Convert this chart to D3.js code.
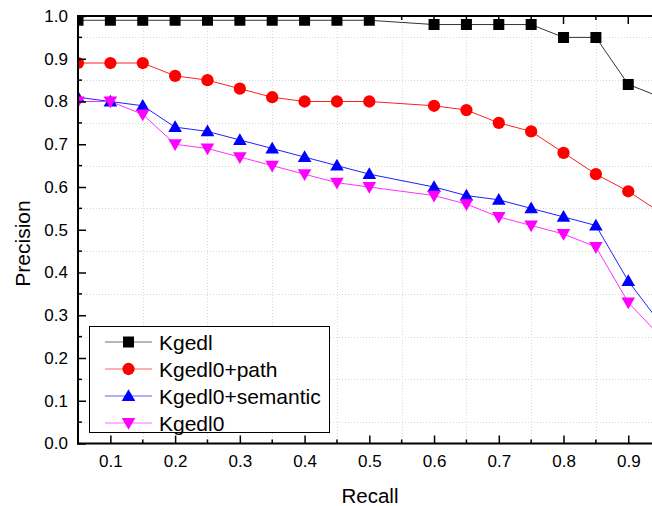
<!DOCTYPE html>
<html>
<head>
<meta charset="utf-8">
<script src="https://cdn.jsdelivr.net/npm/d3@7"></script>
<style>
  html, body { margin: 0; padding: 0; background: #fff; }
  svg { display: block; font-family: Arial, "Liberation Sans", sans-serif; }
</style>
</head>
<body>
<svg id="chart" width="652" height="506"></svg>
<script>
// Recall levels shared by every series
const recall = [0.05, 0.1, 0.15, 0.2, 0.25, 0.3, 0.35, 0.4, 0.45, 0.5,
                0.6, 0.65, 0.7, 0.75, 0.8, 0.85, 0.9, 0.95];

// Precision per method
const kgedl         = [0.99, 0.99, 0.99, 0.99, 0.99, 0.99, 0.99, 0.99, 0.99, 0.99,
                       0.98, 0.98, 0.98, 0.98, 0.95, 0.95, 0.84, 0.81];
const kgedl0Path    = [0.89, 0.89, 0.89, 0.86, 0.85, 0.83, 0.81, 0.80, 0.80, 0.80,
                       0.79, 0.78, 0.75, 0.73, 0.68, 0.63, 0.59, 0.54];
const kgedl0Sem     = [0.81, 0.80, 0.79, 0.74, 0.73, 0.71, 0.69, 0.67, 0.65, 0.63,
                       0.60, 0.58, 0.57, 0.55, 0.53, 0.51, 0.38, 0.28];
const kgedl0        = [0.80, 0.80, 0.77, 0.70, 0.69, 0.67, 0.65, 0.63, 0.61, 0.60,
                       0.58, 0.56, 0.53, 0.51, 0.49, 0.46, 0.33, 0.25];

const seriesNames  = ["Kgedl", "Kgedl0+path", "Kgedl0+semantic", "Kgedl0"];
const seriesColors = ["#000000", "#ff0000", "#0000ff", "#ff00ff"];
const lineColors   = ["#333333", "#ff2020", "#2020ff", "#ff30ff"];
const seriesValues = [kgedl, kgedl0Path, kgedl0Sem, kgedl0];

const xTicks = [0.1, 0.2, 0.3, 0.4, 0.5, 0.6, 0.7, 0.8, 0.9];
const yTicks = [0, 0.1, 0.2, 0.3, 0.4, 0.5, 0.6, 0.7, 0.8, 0.9, 1.0];

(function drawChart() {
const svg = d3.select("#chart");
const pLeft = 78, pTop = 16, pBottom = 443.5, pRight = 693;

const x = d3.scaleLinear().domain([0.05, 1.0]).range([pLeft, pRight]);
const y = d3.scaleLinear().domain([0, 1.0]).range([pBottom, pTop]);

// Faint dotted grid at the half-steps
const gx = d3.range(0.15, 1.0, 0.1);
const gy = d3.range(0.05, 1.0, 0.1);
const grid = svg.append("g").attr("stroke", "#d8d8d8").attr("stroke-width", 1)
  .attr("stroke-dasharray", "1,2");
grid.selectAll("line.v").data(gx).join("line")
  .attr("x1", d => Math.round(x(d)) + 0.5).attr("x2", d => Math.round(x(d)) + 0.5)
  .attr("y1", pTop).attr("y2", pBottom);
grid.selectAll("line.h").data(gy).join("line")
  .attr("x1", pLeft).attr("x2", 652)
  .attr("y1", d => Math.round(y(d)) + 0.5).attr("y2", d => Math.round(y(d)) + 0.5);

// Plot clip
svg.append("clipPath").attr("id", "plotClip")
  .append("rect").attr("x", pLeft).attr("y", pTop).attr("width", pRight - pLeft).attr("height", pBottom - pTop);

const plot = svg.append("g").attr("clip-path", "url(#plotClip)");

const symbols = [d3.symbolSquare, d3.symbolCircle, d3.symbolTriangle, d3.symbolTriangle];
const symSizes = [121, 118, 80, 80];
const rotations = [0, 0, 0, 180];
const symShift = [0, 0, 1, -1];

const line = d3.line().x(d => x(d[0])).y(d => y(d[1]));

seriesValues.forEach((vals, i) => {
  const pts = recall.map((r, j) => [r, vals[j]]);
  plot.append("path").datum(pts)
    .attr("d", line).attr("fill", "none")
    .attr("stroke", lineColors[i]).attr("stroke-width", 1);
});
seriesValues.forEach((vals, i) => {
  const pts = recall.map((r, j) => [r, vals[j]]);
  const sym = d3.symbol().type(symbols[i]).size(symSizes[i]);
  plot.selectAll(null).data(pts).join("path")
    .attr("d", sym)
    .attr("transform", d => `translate(${x(d[0])},${y(d[1]) + symShift[i]}) rotate(${rotations[i]})`)
    .attr("fill", seriesColors[i]);
});

// Axes
const axisColor = "#000";
// bottom axis with inward ticks
const xAxis = d3.axisBottom(x).tickValues(xTicks).tickSize(-8).tickPadding(11)
  .tickFormat(d3.format(".1f"));
const gX = svg.append("g").attr("transform", `translate(0,${pBottom})`).call(xAxis);
gX.select(".domain").remove();
gX.selectAll(".tick line").attr("stroke-width", 1.5);
gX.selectAll("text").attr("font-size", 17).attr("fill", "#000");
svg.append("g").attr("transform", `translate(0,${pBottom})`)
  .selectAll("line").data(d3.range(0.15, 1.0, 0.1)).join("line")
  .attr("x1", d => x(d)).attr("x2", d => x(d)).attr("y1", 0).attr("y2", -4)
  .attr("stroke", axisColor).attr("stroke-width", 1.5);

// top axis ticks pointing down
const gTop = svg.append("g").attr("transform", `translate(0,${pTop})`);
gTop.selectAll("line.maj").data(xTicks).join("line")
  .attr("x1", d => x(d)).attr("x2", d => x(d)).attr("y1", 0).attr("y2", 8)
  .attr("stroke", axisColor).attr("stroke-width", 1.5);
gTop.selectAll("line.min").data(d3.range(0.15, 1.0, 0.1)).join("line")
  .attr("x1", d => x(d)).attr("x2", d => x(d)).attr("y1", 0).attr("y2", 4)
  .attr("stroke", axisColor).attr("stroke-width", 1.5);

// left axis with inward ticks
const yAxis = d3.axisLeft(y).tickValues(yTicks).tickSize(-8).tickPadding(10)
  .tickFormat(d3.format(".1f"));
const gY = svg.append("g").attr("transform", `translate(${pLeft},0)`).call(yAxis);
gY.select(".domain").remove();
gY.selectAll(".tick line").attr("stroke-width", 1.5);
gY.selectAll("text").attr("font-size", 17).attr("fill", "#000");
svg.append("g").attr("transform", `translate(${pLeft},0)`)
  .selectAll("line").data(d3.range(0.05, 1.0, 0.1)).join("line")
  .attr("x1", 0).attr("x2", 4).attr("y1", d => y(d)).attr("y2", d => y(d))
  .attr("stroke", axisColor).attr("stroke-width", 1.5);

// axis frame lines
svg.append("line").attr("x1", pLeft).attr("x2", pLeft).attr("y1", pTop - 1).attr("y2", pBottom + 1)
  .attr("stroke", axisColor).attr("stroke-width", 2);
svg.append("line").attr("x1", pLeft - 1).attr("x2", 652).attr("y1", pBottom).attr("y2", pBottom)
  .attr("stroke", axisColor).attr("stroke-width", 2);
svg.append("line").attr("x1", pLeft - 1).attr("x2", 652).attr("y1", pTop).attr("y2", pTop)
  .attr("stroke", axisColor).attr("stroke-width", 2);

// Axis titles
svg.append("text").attr("x", 370).attr("y", 503).attr("text-anchor", "middle")
  .attr("font-size", 20.5).text("Recall");
svg.append("text").attr("transform", "translate(30,243.5) rotate(-90)")
  .attr("text-anchor", "middle").attr("font-size", 21).text("Precision");

// Legend
const legend = svg.append("g");
legend.append("rect").attr("x", 89.5).attr("y", 326.5).attr("width", 240).attr("height", 106)
  .attr("fill", "#fff").attr("stroke", "#000").attr("stroke-width", 1);
const rowY = [342, 369, 396, 423];
seriesNames.forEach((name, i) => {
  const g = legend.append("g").attr("transform", `translate(0,${rowY[i]})`);
  g.append("line").attr("x1", 105).attr("x2", 152).attr("y1", 0).attr("y2", 0)
    .attr("stroke", lineColors[i]).attr("stroke-width", 1).attr("opacity", 0.7);
  g.append("path").attr("d", d3.symbol().type(symbols[i]).size(symSizes[i]))
    .attr("transform", `translate(128.5,${symShift[i]}) rotate(${rotations[i]})`)
    .attr("fill", seriesColors[i]);
  g.append("text").attr("x", 159).attr("y", 8).attr("font-size", 21).text(name);
});
})();
</script>
</body>
</html>
